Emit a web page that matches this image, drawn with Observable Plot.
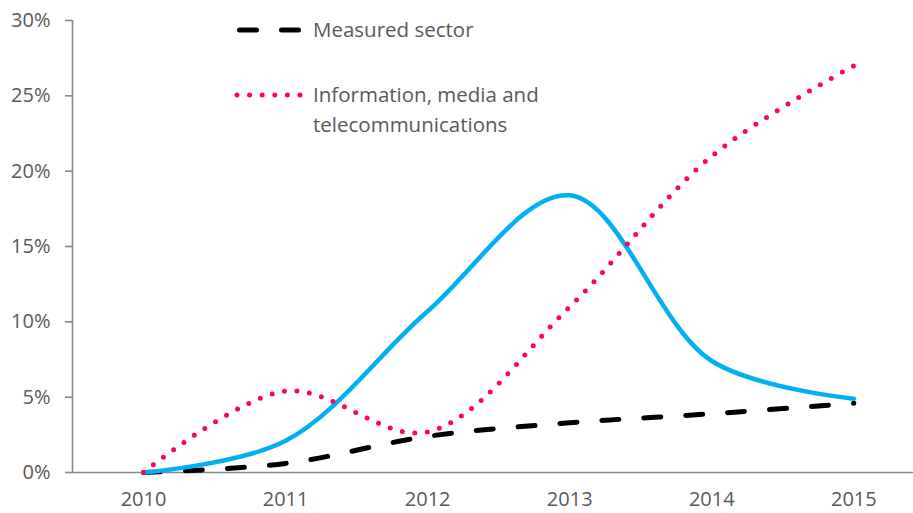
<!DOCTYPE html>
<html>
<head>
<meta charset="utf-8">
<script src="https://cdn.jsdelivr.net/npm/d3@7"></script>
<script src="https://cdn.jsdelivr.net/npm/@observablehq/plot@0.6"></script>
<style>
  html, body { margin: 0; padding: 0; background: #fff; }
  #wrap { position: relative; width: 913px; height: 513px; font-family: "Open Sans", sans-serif; }
  #legend { position: absolute; left: 0; top: 0; width: 913px; height: 140px; pointer-events: none; }
  .lg-text { position: absolute; left: 313px; font-size: 20.5px; color: #595959; line-height: 30px; white-space: nowrap; }
</style>
</head>
<body>
<div id="wrap">
  <div id="chart"></div>
  <div id="legend">
    <svg width="913" height="140" style="position:absolute;left:0;top:0">
      <line x1="239.5" y1="30" x2="299" y2="30" stroke="#000" stroke-width="5" stroke-linecap="round" stroke-dasharray="17,25"></line>
      <line x1="237" y1="95" x2="302" y2="95" stroke="#FF0066" stroke-width="5" stroke-linecap="round" stroke-dasharray="0,12.6"></line>
    </svg>
    <div class="lg-text" style="top:14px">Measured sector</div>
    <div class="lg-text" style="top:79px">Information, media and<br>telecommunications</div>
  </div>
</div>
<script>
const years = [2010, 2011, 2012, 2013, 2014, 2015];
const measuredSector = [0, 0.6, 2.4, 3.3, 3.9, 4.6];
const infoMediaTelecom = [0, 5.4, 2.7, 11.0, 21.0, 27.0];
const unlabelledSeries = [0, 2.1, 10.7, 18.4, 7.4, 4.9];
const yTicks = [0, 5, 10, 15, 20, 25, 30];

const toRows = vals => years.map((year, i) => ({year, value: vals[i]}));
const measuredRows = toRows(measuredSector);
const imtRows = toRows(infoMediaTelecom);
const blueRows = toRows(unlabelledSeries);

const axisColor = "#898989";
const textColor = "#595959";

const chart = Plot.plot({
  width: 913,
  height: 513,
  marginLeft: 72,
  marginRight: 0,
  marginTop: 20,
  marginBottom: 41,
  style: {fontFamily: "'Open Sans', sans-serif", fontSize: "20px", color: textColor, background: "#fff"},
  x: {domain: [2009.5, 2015.42]},
  y: {domain: [0, 30]},
  marks: [
    Plot.ruleY([0], {stroke: axisColor, strokeWidth: 1.6}),
    Plot.ruleX([2009.5], {y1: 0, y2: 30, stroke: axisColor, strokeWidth: 1.6}),
    Plot.axisY({ticks: yTicks, tickFormat: d => d + "%", tickSize: 7, tickPadding: 15, stroke: axisColor, strokeWidth: 1.6, fill: textColor, fontSize: 20, label: null}),
    Plot.axisX({ticks: years, tickFormat: d => String(d), tickSize: 0, tickPadding: 19, fill: textColor, fontSize: 20, label: null}),
    Plot.line(measuredRows, {x: "year", y: "value", curve: "catmull-rom", stroke: "#000", strokeWidth: 5, strokeLinecap: "round", strokeDasharray: "17,25"}),
    Plot.line(blueRows, {x: "year", y: "value", curve: "catmull-rom", stroke: "#00B0F0", strokeWidth: 4.5, strokeLinecap: "round"}),
    Plot.line(imtRows, {x: "year", y: "value", curve: "catmull-rom", stroke: "#FF0066", strokeWidth: 5, strokeLinecap: "round", strokeDasharray: "0,12.6"})
  ]
});
document.getElementById("chart").appendChild(chart);
</script>
</body>
</html>
